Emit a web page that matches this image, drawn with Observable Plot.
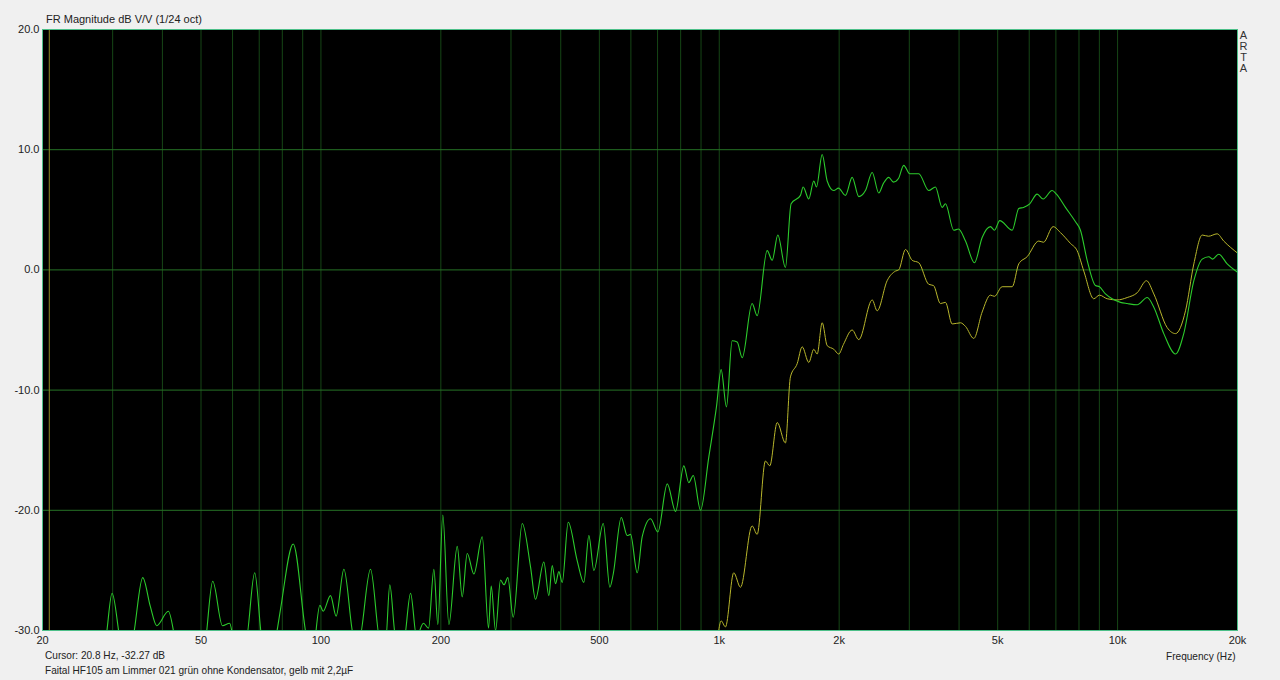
<!DOCTYPE html>
<html>
<head>
<meta charset="utf-8">
<script src="https://cdn.jsdelivr.net/npm/d3@7"></script>
<script src="https://cdn.jsdelivr.net/npm/@observablehq/plot@0.6"></script>
<style>
  html, body { margin: 0; padding: 0; background: #f0f0f0; }
  #wrap { position: relative; width: 1280px; height: 680px; font-family: "Liberation Sans", Arial, sans-serif; color: #222; }
  .t { position: absolute; font-size: 11px; white-space: nowrap; line-height: 1; }
  .s { font-size: 10.1px; }
  .a { position: absolute; left: 1239px; width: 9px; text-align: center; font-size: 11px; line-height: 11px; height: 11px; color: #333; }
</style>
</head>
<body>
<div id="wrap">
  <div id="chart"></div>
  <div class="t" style="left:46px; top:14px;">FR Magnitude dB V/V (1/24 oct)</div>
  <div class="a" style="top:30px;">A</div>
  <div class="a" style="top:41px;">R</div>
  <div class="a" style="top:52px;">T</div>
  <div class="a" style="top:63px;">A</div>
  <div class="t s" style="left:45px; top:651px;">Cursor: 20.8 Hz, -32.27 dB</div>
  <div class="t s" style="left:45px; top:666px;">Faital HF105 am Limmer 021 grün ohne Kondensator, gelb mit 2,2µF</div>
  <div class="t s" style="left:1166px; top:652px;">Frequency (Hz)</div>
</div>
<script>
// Green curve: without capacitor (frequency Hz, level dB)
const greenFreq = [20, 26.4, 28.9, 29.9, 31.4, 32.9, 34.0, 35.7, 37.3, 38.7, 41.4, 43.2, 47.1, 51.3, 53.5, 56.6, 59.0, 60.7, 64.7, 68.2, 70.9, 74.7, 77.8, 79.2, 85.2, 92.0, 95.2, 99.4, 101.3, 105.7, 109.2, 114.2, 120.7, 124.3, 133.2, 141.1, 145.3, 148.9, 153.9, 161.2, 167.9, 173.8, 180.9, 186.3, 192.1, 196.6, 202.3, 209.5, 219.9, 226.3, 233.0, 242.1, 254.1, 263.5, 267.6, 274.4, 282.4, 288.2, 294.6, 303.9, 320.2, 335.9, 345.7, 362.7, 373.4, 380.8, 388.2, 395.6, 403.5, 417.7, 440.0, 457.1, 470.6, 484.4, 511.4, 531.3, 541.8, 567.5, 587.5, 598.8, 622.4, 640.6, 672.2, 701.2, 740.4, 776.8, 814.7, 838.7, 860.4, 897.4, 941.1, 983.9, 1011, 1042.5, 1077.4, 1109, 1142, 1209, 1245, 1319, 1358, 1403, 1466, 1515, 1599, 1624, 1678, 1727, 1754, 1813, 1866, 1939, 1992, 2074, 2156, 2240, 2328, 2421, 2514, 2583, 2664, 2737, 2818, 2905, 3008, 3168, 3357, 3489, 3627, 3697, 3879, 3986, 4151, 4372, 4571, 4795, 4908, 5060, 5437, 5648, 5803, 6018, 6282, 6503, 6850, 7023, 7398, 7840, 8068, 8387, 8799, 9006, 9323, 9692, 10170, 10570, 11200, 11870, 12330, 13060, 13980, 14660, 15540, 16310, 16940, 17310, 17950, 18840, 20000];
const greenDb = [-34, -36, -30.5, -26.9, -31, -33, -30, -25.6, -28, -29.6, -28.4, -31, -36, -31, -25.9, -29.6, -29.4, -31, -31, -25.2, -30.5, -33, -29.8, -28.2, -22.8, -30.5, -32, -27.9, -28.4, -27.1, -28.8, -24.9, -30.5, -31, -24.9, -31, -31, -26.2, -30.5, -31, -26.9, -30.5, -29.4, -29.8, -24.9, -29.5, -20.4, -29.5, -23.0, -27.2, -23.6, -25.3, -22.2, -29.8, -26.3, -30, -25.8, -26.2, -25.6, -28.9, -21.1, -24.7, -27.4, -24.3, -27.1, -24.6, -26.1, -25.1, -26.0, -21.0, -24.2, -26.0, -22.1, -25.0, -21.1, -26.4, -25.3, -20.6, -22.1, -22.0, -25.2, -22.2, -20.7, -21.8, -17.8, -20.1, -16.3, -17.7, -17.1, -20.0, -15.6, -11.4, -8.3, -11.4, -5.9, -6.0, -7.3, -2.8, -3.8, 1.6, 0.8, 2.9, 0.2, 5.5, 6.2, 6.9, 5.9, 7.4, 6.9, 9.6, 7.4, 6.6, 6.8, 6.2, 7.7, 6.1, 6.6, 8.1, 6.4, 7.2, 7.7, 7.3, 7.6, 8.7, 8.0, 8.0, 6.6, 6.9, 5.2, 5.5, 3.3, 3.4, 2.4, 0.6, 2.7, 3.6, 3.3, 4.1, 3.3, 5.1, 5.2, 5.5, 6.3, 5.9, 6.6, 6.3, 5.2, 4.0, 3.3, 0.8, -1.3, -1.4, -2.0, -2.4, -2.7, -2.8, -2.9, -2.3, -3.1, -5.3, -7.0, -5.3, -0.9, 0.9, 1.1, 0.9, 1.3, 0.5, -0.2];

// Yellow curve: with 2.2 µF capacitor
const yellowFreq = [972.6, 997, 1011, 1036.5, 1087.4, 1130.5, 1209, 1245, 1306, 1339, 1398, 1466, 1509, 1569, 1615, 1678, 1727, 1761, 1813, 1866, 1939, 1995, 2050, 2156, 2240, 2421, 2491, 2639, 2769, 2822, 2935, 3050, 3168, 3357, 3450, 3592, 3697, 3844, 4032, 4151, 4354, 4571, 4795, 4908, 5131, 5437, 5648, 5929, 6340, 6515, 6890, 7189, 7617, 7914, 8226, 8714, 9006, 9415, 9977, 10570, 11200, 11820, 12330, 13320, 13980, 14810, 15540, 16310, 16910, 17780, 18470, 20000];
const yellowDb = [-34, -30, -29.2, -29.7, -25.2, -26.4, -21.3, -22.0, -15.9, -16.3, -12.7, -14.4, -8.9, -7.8, -6.4, -7.7, -6.6, -7.0, -4.4, -6.3, -6.6, -7.0, -6.2, -5.0, -5.8, -2.5, -3.4, -0.9, -0.1, 0.0, 1.7, 0.8, 0.6, -1.2, -1.3, -2.8, -2.7, -4.5, -4.4, -4.7, -5.7, -3.5, -2.1, -2.2, -1.4, -1.4, 0.5, 1.1, 2.4, 2.3, 3.6, 3.1, 2.2, 1.6, -0.1, -2.4, -2.1, -2.4, -2.5, -2.3, -1.9, -0.9, -2.0, -4.8, -5.3, -3.4, 0.5, 2.9, 2.8, 3.0, 2.4, 1.4];

const cursorHz = [20.8];

const xTicks = [20, 50, 100, 200, 500, 1000, 2000, 5000, 10000, 20000];
const xTickLabels = ["20", "50", "100", "200", "500", "1k", "2k", "5k", "10k", "20k"];
const yTicks = [-30, -20, -10, 0, 10, 20];
const gridFreq = [30, 40, 50, 60, 70, 80, 90, 100, 200, 300, 400, 500, 600, 700, 800, 900, 1000, 2000, 3000, 4000, 5000, 6000, 7000, 8000, 9000, 10000];
const gridDb = [-20, -10, 0, 10];

const green = greenFreq.map((f, i) => ({f, db: greenDb[i]}));
const yellow = yellowFreq.map((f, i) => ({f, db: yellowDb[i]}));
const labelOf = new Map(xTicks.map((t, i) => [t, xTickLabels[i]]));

const chart = Plot.plot({
  width: 1280,
  height: 680,
  marginTop: 29,
  marginBottom: 50,
  marginLeft: 42,
  marginRight: 43,
  style: {background: "transparent", fontFamily: "'Liberation Sans', Arial, sans-serif", fontSize: "11px", color: "#222"},
  x: {type: "log", domain: [20, 20000]},
  y: {domain: [-30, 20]},
  marks: [
    Plot.frame({fill: "#000", stroke: null}),
    Plot.ruleX(gridFreq, {stroke: "#164616", strokeWidth: 1}),
    Plot.ruleY(gridDb, {stroke: "#267226", strokeWidth: 1}),
    Plot.ruleX(cursorHz, {stroke: "#8f8a26", strokeWidth: 1}),
    Plot.line(yellow, {x: "f", y: "db", stroke: "#b8b62c", strokeWidth: 1, curve: "monotone-x", clip: true}),
    Plot.line(green, {x: "f", y: "db", stroke: "#2ccb2c", strokeWidth: 1.1, curve: "monotone-x", clip: true}),
    Plot.frame({stroke: "#4cbf88", strokeWidth: 1}),
    Plot.axisX(xTicks, {tickSize: 0, tickPadding: 6, tickFormat: d => labelOf.get(d), label: null, fill: "#222"}),
    Plot.axisY(yTicks, {tickSize: 0, tickPadding: 3, tickFormat: d => d.toFixed(1), label: null, fill: "#222"})
  ]
});
document.getElementById("chart").appendChild(chart);
</script>
</body>
</html>
